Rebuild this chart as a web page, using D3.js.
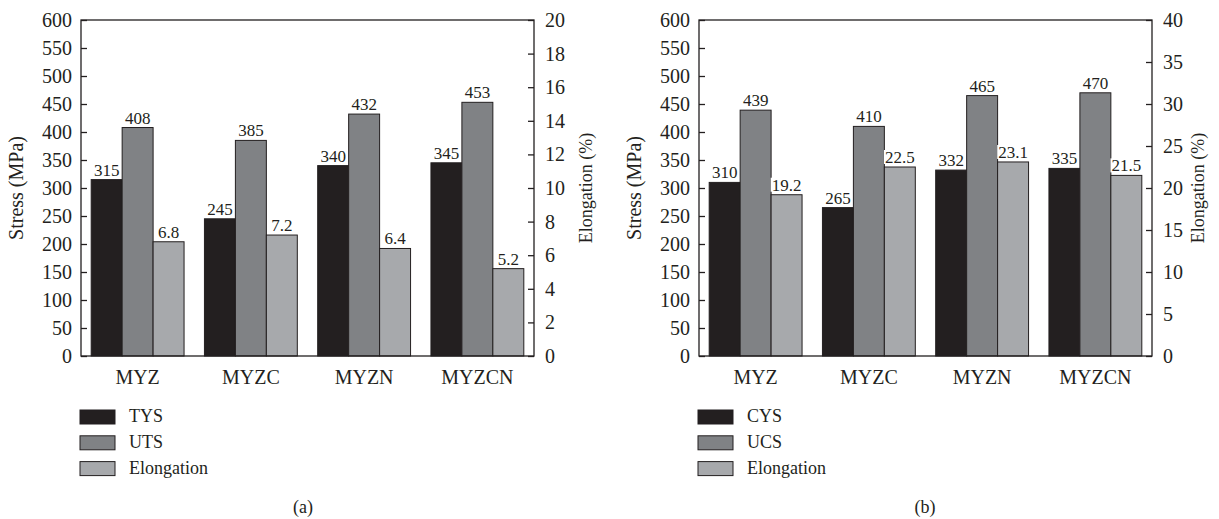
<!DOCTYPE html>
<html>
<head>
<meta charset="utf-8">
<script src="https://cdn.jsdelivr.net/npm/d3@7"></script>
<style>
  body { margin: 0; background: #fff; }
</style>
</head>
<body>
<svg id="chart" width="1219" height="519"></svg>
<script>
const categories = ["MYZ", "MYZC", "MYZN", "MYZCN"];

// panel (a)
const tys = [315, 245, 340, 345];
const uts = [408, 385, 432, 453];
const elongA = [6.8, 7.2, 6.4, 5.2];

// panel (b)
const cys = [310, 265, 332, 335];
const ucs = [439, 410, 465, 470];
const elongB = [19.2, 22.5, 23.1, 21.5];

const stressTicks = d3.range(0, 601, 50);
const elongTicksA = d3.range(0, 21, 2);
const elongTicksB = d3.range(0, 41, 5);

const colors = ["#231f20", "#808285", "#a7a9ac"];
const font = "'Liberation Serif', 'Times New Roman', serif";

const svg = d3.select("#chart");

const plotTop = 20, plotBottom = 356;

function drawPanel(x0, x1, series, names, elongMax, elongTicks, tag, tagX, rTitleOff) {
    const g = svg.append("g");

    const y = d3.scaleLinear().domain([0, 600]).range([plotBottom, plotTop]);
    const y2 = d3.scaleLinear().domain([0, elongMax]).range([plotBottom, plotTop]);
    const x = d3.scaleBand().domain(categories).range([x0, x1]).paddingInner(0.18).paddingOuter(0.09);
    const xs = d3.scaleBand().domain([0, 1, 2]).range([0, x.bandwidth()]);

    // bars
    series.forEach((vals, si) => {
        const sc = si === 2 ? y2 : y;
        g.selectAll(null)
            .data(vals)
            .join("rect")
            .attr("x", (d, i) => x(categories[i]) + xs(si))
            .attr("y", d => sc(d))
            .attr("width", xs.bandwidth())
            .attr("height", d => plotBottom - sc(d))
            .attr("fill", colors[si])
            .attr("stroke", "#231f20")
            .attr("stroke-width", 1);
    });

    // value labels (white box added later)
    series.forEach((vals, si) => {
        const sc = si === 2 ? y2 : y;
        const lg = g.selectAll(null)
            .data(vals)
            .join("g")
            .attr("transform", (d, i) => `translate(${x(categories[i]) + xs(si) + xs.bandwidth() / 2},${sc(d) - 4})`);
        lg.append("text")
            .attr("class", "lbl")
            .attr("text-anchor", "middle")
            .attr("font-size", 17)
            .text(d => d);
    });

    // frame
    g.append("rect")
        .attr("x", x0).attr("y", plotTop)
        .attr("width", x1 - x0).attr("height", plotBottom - plotTop)
        .attr("fill", "none").attr("stroke", "#231f20").attr("stroke-width", 1.3);

    // left axis
    const la = g.append("g")
        .attr("transform", `translate(${x0},0)`)
        .call(d3.axisRight(y).tickValues(stressTicks).tickSize(6));
    la.select(".domain").remove();
    la.selectAll("line").attr("stroke", "#231f20").attr("stroke-width", 1.3);
    la.selectAll("text").attr("text-anchor", "end").attr("x", -9).attr("font-size", 20);

    // right axis
    const ra = g.append("g")
        .attr("transform", `translate(${x1},0)`)
        .call(d3.axisLeft(y2).tickValues(elongTicks).tickSize(6));
    ra.select(".domain").remove();
    ra.selectAll("line").attr("stroke", "#231f20").attr("stroke-width", 1.3);
    ra.selectAll("text").attr("text-anchor", "start").attr("x", 11).attr("font-size", 20);

    // category labels
    g.selectAll(null)
        .data(categories)
        .join("text")
        .attr("x", d => x(d) + x.bandwidth() / 2)
        .attr("y", 384)
        .attr("text-anchor", "middle")
        .attr("font-size", 20)
        .text(d => d);

    // axis titles
    g.append("text")
        .attr("transform", `translate(${x0 - 58},${(plotTop + plotBottom) / 2}) rotate(-90)`)
        .attr("text-anchor", "middle")
        .attr("font-size", 20)
        .text("Stress (MPa)");
    g.append("text")
        .attr("transform", `translate(${x1 + rTitleOff},${(plotTop + plotBottom) / 2}) rotate(-90)`)
        .attr("text-anchor", "middle")
        .attr("font-size", 18)
        .text("Elongation (%)");

    // legend
    const leg = g.selectAll(null)
        .data(names)
        .join("g")
        .attr("transform", (d, i) => `translate(${x0 - 1},${410 + i * 25.8})`);
    leg.append("rect")
        .attr("width", 35).attr("height", 14)
        .attr("fill", (d, i) => colors[i])
        .attr("stroke", "#231f20").attr("stroke-width", 1);
    leg.append("text")
        .attr("x", 49).attr("y", 12)
        .attr("font-size", 18)
        .text(d => d);

    g.append("text")
        .attr("x", tagX).attr("y", 513)
        .attr("text-anchor", "middle")
        .attr("font-size", 18)
        .text(tag);
}

drawPanel(81, 534, [tys, uts, elongA], ["TYS", "UTS", "Elongation"], 20, elongTicksA, "(a)", 303, 58);
drawPanel(699, 1152, [cys, ucs, elongB], ["CYS", "UCS", "Elongation"], 40, elongTicksB, "(b)", 925, 52);

svg.selectAll("text").attr("font-family", font).style("font-family", font).attr("fill", "#231f20");

// white boxes behind the bar value labels, stopping just under the baseline
svg.selectAll("text.lbl").each(function() {
    const b = this.getBBox();
    d3.select(this.parentNode).insert("rect", "text")
        .attr("x", b.x - 1).attr("y", b.y + 2)
        .attr("width", b.width + 2).attr("height", Math.max(0, -b.y - 1))
        .attr("fill", "#fff");
});
</script>
</body>
</html>
